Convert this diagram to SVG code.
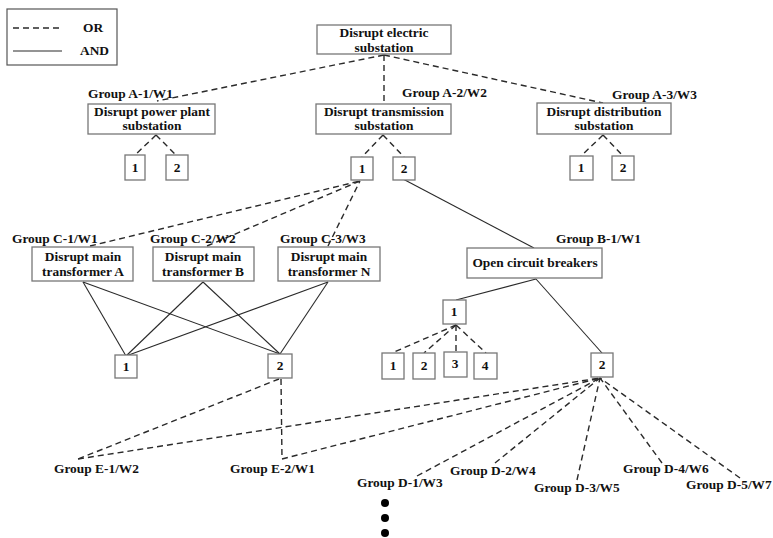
<svg xmlns="http://www.w3.org/2000/svg" width="773" height="538" viewBox="0 0 773 538">
  <style>
    text { font-family: "Liberation Serif", "Times New Roman", serif; font-weight: bold; font-size: 13.4px; fill: #111; }
    .c { text-anchor: middle; }
    .box { fill: #fff; stroke: #777; stroke-width: 1.3; }
    .or { fill: none; stroke: #2a2a2a; stroke-width: 1.4; stroke-dasharray: 6 4; }
    .and { fill: none; stroke: #2a2a2a; stroke-width: 1.1; }
  </style>
  <rect width="773" height="538" fill="#fff"/>

  <!-- legend -->
  <g id="legend">
    <rect x="7" y="9" width="110" height="56" fill="#fff" stroke="#555" stroke-width="1.2"/>
    <line class="or" x1="13" y1="28" x2="62" y2="28"/>
    <line class="and" x1="13" y1="51" x2="62" y2="51"/>
    <text x="83" y="32">OR</text>
    <text x="80" y="55">AND</text>
  </g>

  <!-- connectors -->
  <g id="connectors">
    <!-- root to level A -->
    <line class="or" x1="384" y1="55" x2="157" y2="101"/>
    <line class="or" x1="384" y1="55" x2="384" y2="104"/>
    <line class="or" x1="384" y1="55" x2="603" y2="103"/>
    <!-- level A to numbered boxes -->
    <line class="or" x1="156" y1="135" x2="135" y2="155"/>
    <line class="or" x1="156" y1="135" x2="176" y2="155"/>
    <line class="or" x1="383" y1="135" x2="362" y2="157"/>
    <line class="or" x1="383" y1="135" x2="404" y2="157"/>
    <line class="or" x1="603" y1="135" x2="581" y2="156"/>
    <line class="or" x1="603" y1="135" x2="623" y2="156"/>
    <!-- group C to transmission box 1 -->
    <line class="or" x1="90" y1="246" x2="360" y2="181"/>
    <line class="or" x1="207" y1="246" x2="360" y2="181"/>
    <line class="or" x1="328" y1="246" x2="360" y2="181"/>
    <!-- transformers to C boxes -->
    <line class="and" x1="83" y1="282" x2="126" y2="356"/>
    <line class="and" x1="83" y1="282" x2="280" y2="354"/>
    <line class="and" x1="203" y1="282" x2="126" y2="356"/>
    <line class="and" x1="203" y1="282" x2="280" y2="354"/>
    <line class="and" x1="328" y1="282" x2="126" y2="356"/>
    <line class="and" x1="328" y1="282" x2="280" y2="354"/>
    <!-- transmission box 2 to breakers -->
    <line class="and" x1="403" y1="179" x2="534" y2="248"/>
    <line class="and" x1="536" y1="279" x2="456" y2="300"/>
    <line class="and" x1="536" y1="279" x2="602" y2="353"/>
    <!-- breaker box 1 to sub boxes -->
    <line class="or" x1="456" y1="325" x2="392" y2="353"/>
    <line class="or" x1="456" y1="325" x2="424" y2="353"/>
    <line class="or" x1="456" y1="325" x2="456" y2="352"/>
    <line class="or" x1="456" y1="325" x2="486" y2="353"/>
    <!-- group E -->
    <line class="or" x1="279" y1="379" x2="78" y2="459"/>
    <line class="or" x1="281" y1="379" x2="282" y2="459"/>
    <line class="or" x1="78" y1="459" x2="600" y2="378"/>
    <line class="or" x1="282" y1="459" x2="600" y2="378"/>
    <!-- group D -->
    <line class="or" x1="417" y1="476" x2="600" y2="378"/>
    <line class="or" x1="495" y1="463" x2="600" y2="378"/>
    <line class="or" x1="577" y1="480" x2="600" y2="378"/>
    <line class="or" x1="662" y1="463" x2="600" y2="378"/>
    <line class="or" x1="740" y1="478" x2="600" y2="378"/>
  </g>

  <!-- root -->
  <g id="root">
    <rect class="box" x="317" y="25" width="134" height="29"/>
    <text class="c" x="384" y="37">Disrupt electric</text>
    <text class="c" x="384" y="52">substation</text>
  </g>

  <!-- level A -->
  <g id="a1">
    <text x="88" y="98">Group A-1/W1</text>
    <rect class="box" x="88" y="104" width="127" height="30"/>
    <text class="c" x="152" y="116">Disrupt power plant</text>
    <text class="c" x="152" y="130">substation</text>
  </g>
  <g id="a1-1"><rect class="box" x="125" y="155" width="20" height="25"/><text class="c" x="135" y="172">1</text></g>
  <g id="a1-2"><rect class="box" x="166" y="155" width="22" height="25"/><text class="c" x="177" y="172">2</text></g>

  <g id="a2">
    <text x="402" y="97">Group A-2/W2</text>
    <rect class="box" x="316" y="104" width="135" height="30"/>
    <text class="c" x="384" y="116">Disrupt transmission</text>
    <text class="c" x="384" y="130">substation</text>
  </g>
  <g id="a2-1"><rect class="box" x="351" y="157" width="22" height="23"/><text class="c" x="362" y="173">1</text></g>
  <g id="a2-2"><rect class="box" x="393" y="157" width="22" height="23"/><text class="c" x="404" y="173">2</text></g>

  <g id="a3">
    <text x="612" y="99">Group A-3/W3</text>
    <rect class="box" x="537" y="103" width="134" height="31"/>
    <text class="c" x="604" y="116">Disrupt distribution</text>
    <text class="c" x="604" y="130">substation</text>
  </g>
  <g id="a3-1"><rect class="box" x="570" y="156" width="23" height="24"/><text class="c" x="581" y="172">1</text></g>
  <g id="a3-2"><rect class="box" x="612" y="156" width="22" height="24"/><text class="c" x="623" y="172">2</text></g>

  <!-- group C -->
  <g id="c1">
    <text x="12" y="243">Group C-1/W1</text>
    <rect class="box" x="32" y="247" width="101" height="34"/>
    <text class="c" x="83" y="261">Disrupt main</text>
    <text class="c" x="83" y="276">transformer A</text>
  </g>
  <g id="c2">
    <text x="150" y="243">Group C-2/W2</text>
    <rect class="box" x="153" y="247" width="101" height="34"/>
    <text class="c" x="203" y="261">Disrupt main</text>
    <text class="c" x="203" y="276">transformer B</text>
  </g>
  <g id="c3">
    <text x="280" y="243">Group C-3/W3</text>
    <rect class="box" x="278" y="247" width="102" height="34"/>
    <text class="c" x="329" y="261">Disrupt main</text>
    <text class="c" x="329" y="276">transformer N</text>
  </g>
  <g id="c-1"><rect class="box" x="115" y="355" width="22" height="23"/><text class="c" x="126" y="371">1</text></g>
  <g id="c-2"><rect class="box" x="268" y="354" width="24" height="24"/><text class="c" x="280" y="370">2</text></g>

  <!-- group B -->
  <g id="b1">
    <text x="556" y="243">Group B-1/W1</text>
    <rect class="box" x="467" y="248" width="135" height="30"/>
    <text class="c" x="535" y="267">Open circuit breakers</text>
  </g>
  <g id="b-1"><rect class="box" x="443" y="300" width="23" height="24"/><text class="c" x="454" y="316">1</text></g>
  <g id="b-1-1"><rect class="box" x="382" y="353" width="22" height="26"/><text class="c" x="393" y="370">1</text></g>
  <g id="b-1-2"><rect class="box" x="413" y="353" width="22" height="26"/><text class="c" x="424" y="370">2</text></g>
  <g id="b-1-3"><rect class="box" x="444" y="352" width="23" height="25"/><text class="c" x="455" y="368">3</text></g>
  <g id="b-1-4"><rect class="box" x="474" y="353" width="23" height="26"/><text class="c" x="485" y="370">4</text></g>
  <g id="b-2"><rect class="box" x="591" y="353" width="22" height="24"/><text class="c" x="602" y="369">2</text></g>

  <!-- group E -->
  <g id="e1"><text x="54" y="473">Group E-1/W2</text></g>
  <g id="e2"><text x="230" y="473">Group E-2/W1</text></g>

  <!-- group D -->
  <g id="d1"><text x="357" y="487">Group D-1/W3</text></g>
  <g id="d2"><text x="450" y="475">Group D-2/W4</text></g>
  <g id="d3"><text x="534" y="492">Group D-3/W5</text></g>
  <g id="d4"><text x="623" y="473">Group D-4/W6</text></g>
  <g id="d5"><text x="686" y="489">Group D-5/W7</text></g>

  <!-- continuation -->
  <g id="more" fill="#000">
    <circle cx="385" cy="503" r="4"/>
    <circle cx="385" cy="518" r="4"/>
    <circle cx="385" cy="533" r="4"/>
  </g>
</svg>
